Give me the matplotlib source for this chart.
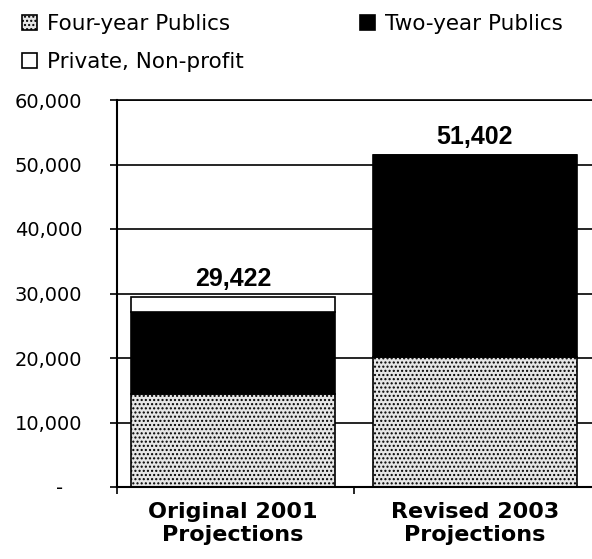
import matplotlib
matplotlib.use("Agg")
import matplotlib.pyplot as plt
from matplotlib.ticker import FuncFormatter

categories = ["Original 2001\nProjections", "Revised 2003\nProjections"]
four_year = [14400, 20200]
two_year = [12700, 31202]
private_np = [2322, 0]
totals = [29422, 51402]
y_ticks = [0, 10000, 20000, 30000, 40000, 50000, 60000]

plt.rcParams["hatch.color"] = "#9a9a9a"
plt.rcParams["hatch.linewidth"] = 1.0

fig = plt.figure(figsize=(5.92, 5.59), dpi=100)
ax = fig.add_axes([117 / 592, 1 - 487 / 559, (596 - 117) / 592, (487 - 100) / 559])

x = list(range(len(categories)))
w = 0.843

ax.set_axisbelow(True)
ax.yaxis.grid(True, color="black", linewidth=1.2)

b1 = ax.bar(x, four_year, w, color="#e6e6e6", edgecolor="black", linewidth=1.2,
            hatch="....", label="Four-year Publics")
b2 = ax.bar(x, two_year, w, bottom=four_year, color="black", edgecolor="black",
            linewidth=1.2, label="Two-year Publics")
bottoms = [a + b for a, b in zip(four_year, two_year)]
b3 = ax.bar(x, private_np, w, bottom=bottoms, color="white", edgecolor="black",
            linewidth=1.2, label="Private, Non-profit")

for xi, t in zip(x, totals):
    ax.text(xi, t + 1700, f"{t:,}", ha="center", va="baseline",
            fontsize=18, fontweight="bold", family="Liberation Sans")

ax.set_xlim(-0.479, 1.5)
ax.set_ylim(0, 60000)
ax.set_yticks(y_ticks)
ax.yaxis.set_major_formatter(FuncFormatter(lambda v, p: "-   " if v == 0 else f"{int(v):,}"))
ax.tick_params(axis="y", labelsize=14, length=5, width=1.2, pad=20)
for lab in ax.get_yticklabels():
    lab.set_family("DejaVu Sans")

ax.set_xticks([-0.479, 0.5], minor=True)
ax.set_xticks(x)
ax.set_xticklabels(categories, fontsize=16, fontweight="bold", linespacing=1.2)
ax.tick_params(axis="x", which="major", length=0, pad=11)
ax.tick_params(axis="x", which="minor", length=5, width=1.2, direction="out")

for s in ["left", "bottom"]:
    ax.spines[s].set_linewidth(1.5)
ax.spines["right"].set_visible(False)
ax.spines["top"].set_linewidth(1.2)

fig.legend(handles=[b1, b3, b2],
           labels=["Four-year Publics", "Private, Non-profit", "Two-year Publics"],
           ncol=2, loc="upper left", bbox_to_anchor=(7 / 592, 1 + 1 / 559),
           frameon=False, fontsize=15.5, handlelength=0.7, handleheight=0.7,
           handletextpad=0.45, columnspacing=5.4, labelspacing=0.85, borderpad=0.2)

fig.savefig("out.png", dpi=100)
